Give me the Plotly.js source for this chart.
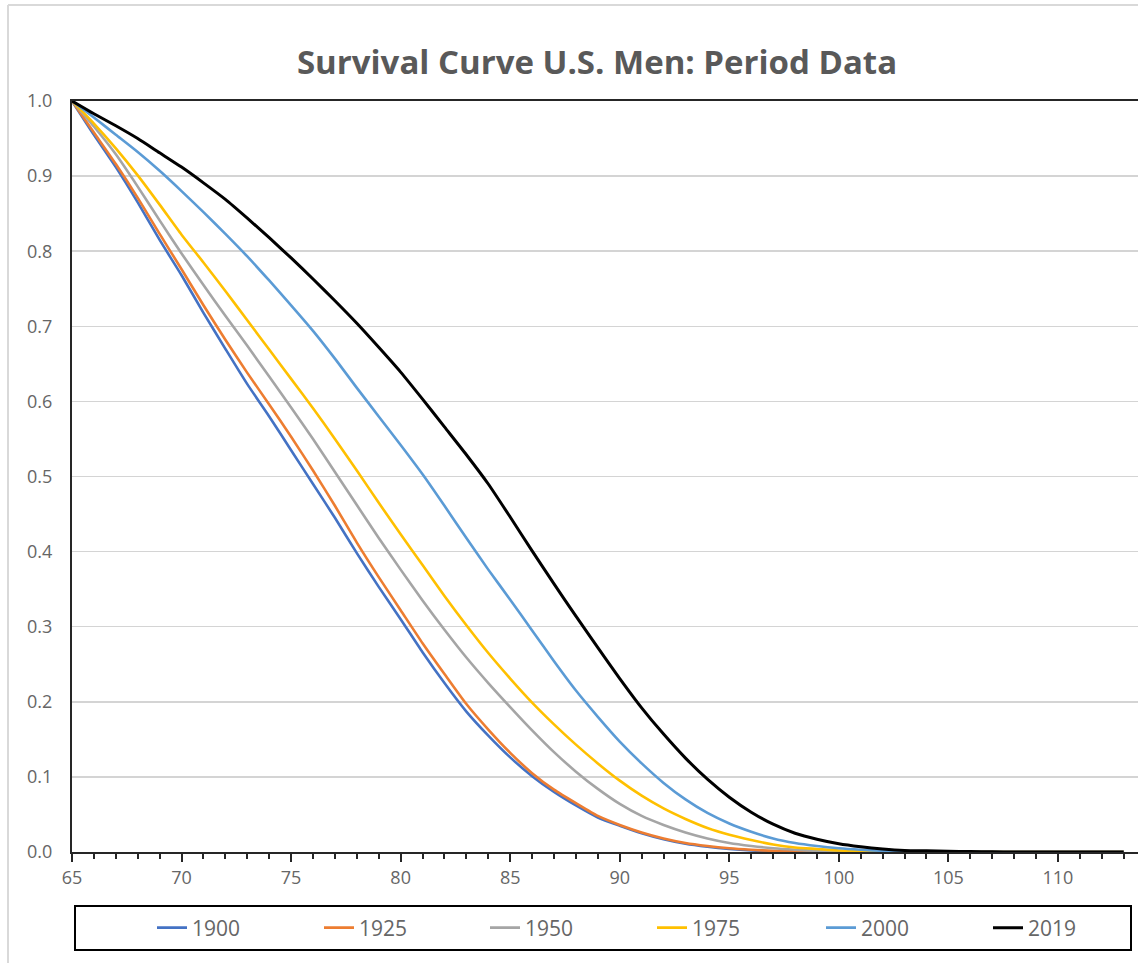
<!DOCTYPE html>
<html>
<head>
<meta charset="utf-8">
<script src="https://cdn.plot.ly/plotly-3.0.1.min.js"></script>
<style>html,body{margin:0;padding:0;background:#fff;}#chart{width:1138px;height:963px;}</style>
</head>
<body>
<div id="chart"></div>
<script>
const ages = [65,66,67,68,69,70,71,72,73,74,75,76,77,78,79,80,81,82,83,84,85,86,87,88,89,90,91,92,93,94,95,96,97,98,99,100,101,102,103,104,105,106,107,108,109,110,111,112,113];

const s1900 = [1.000,0.955,0.912,0.865,0.815,0.768,0.718,0.670,0.623,0.580,0.535,0.490,0.445,0.398,0.353,0.310,0.266,0.225,0.187,0.155,0.126,0.101,0.080,0.062,0.046,0.035,0.025,0.017,0.011,0.007,0.004,0.002,0.001,0.0005,0.0002,0,0,0,0,0,0,0,0,0,0,0,0,0,0];
const s1925 = [1.000,0.958,0.916,0.871,0.823,0.776,0.728,0.682,0.638,0.596,0.553,0.508,0.461,0.412,0.366,0.322,0.278,0.237,0.197,0.163,0.132,0.105,0.083,0.065,0.048,0.036,0.026,0.018,0.012,0.008,0.005,0.003,0.0015,0.0008,0.0003,0,0,0,0,0,0,0,0,0,0,0,0,0,0];
const s1950 = [1.000,0.966,0.929,0.886,0.841,0.797,0.755,0.714,0.674,0.633,0.592,0.550,0.506,0.462,0.418,0.376,0.335,0.296,0.259,0.225,0.193,0.162,0.133,0.107,0.084,0.064,0.048,0.036,0.026,0.018,0.012,0.008,0.005,0.003,0.0015,0.0008,0.0003,0,0,0,0,0,0,0,0,0,0,0,0];
const s1975 = [1.000,0.970,0.937,0.901,0.862,0.822,0.785,0.747,0.708,0.669,0.630,0.591,0.550,0.508,0.465,0.423,0.382,0.341,0.302,0.265,0.231,0.199,0.170,0.143,0.118,0.095,0.075,0.058,0.044,0.032,0.023,0.016,0.010,0.006,0.004,0.002,0.001,0.0005,0,0,0,0,0,0,0,0,0,0,0];
const s2000 = [1.000,0.978,0.955,0.932,0.907,0.880,0.852,0.823,0.793,0.761,0.728,0.694,0.657,0.618,0.580,0.542,0.503,0.461,0.418,0.376,0.336,0.295,0.254,0.215,0.180,0.147,0.118,0.092,0.070,0.052,0.038,0.027,0.018,0.012,0.008,0.005,0.003,0.0015,0.0008,0.0003,0,0,0,0,0,0,0,0,0];
const s2019 = [1.000,0.983,0.967,0.950,0.931,0.912,0.891,0.869,0.844,0.818,0.791,0.763,0.734,0.704,0.672,0.639,0.603,0.566,0.529,0.490,0.446,0.401,0.357,0.314,0.272,0.231,0.192,0.157,0.125,0.097,0.073,0.053,0.037,0.025,0.017,0.011,0.007,0.004,0.002,0.0015,0.001,0.0005,0.0002,0,0,0,0,0,0];

const seriesNames = ['1900','1925','1950','1975','2000','2019'];
const seriesData = [s1900,s1925,s1950,s1975,s2000,s2019];
const seriesColors = ['#4472C4','#ED7D31','#A5A5A5','#FFC000','#5B9BD5','#000000'];
const yTicks = [0,0.1,0.2,0.3,0.4,0.5,0.6,0.7,0.8,0.9,1.0];
const xTicks = [65,70,75,80,85,90,95,100,105,110];

const W = 1138, H = 963;
const L = 72, R = 0, T = 101, B = 111;
const pw = W - L - R, ph = H - T - B;
const px = p => (p - L) / pw;
const py = p => (H - B - p) / ph;

const legendIds = ['legend','legend2','legend3','legend4','legend5','legend6'];
const legendX = [152, 319, 485, 652, 821, 988];

const traces = seriesNames.map((n, i) => ({
  x: ages, y: seriesData[i], name: n, type: 'scatter', mode: 'lines',
  line: {color: seriesColors[i], width: i === 5 ? 3 : 2.6, shape: 'spline', smoothing: 0.6},
  legend: legendIds[i],
  hoverinfo: 'skip'
}));

const layout = {
  width: W, height: H,
  margin: {l: L, r: R, t: T, b: B, pad: 0, autoexpand: false},
  paper_bgcolor: '#fff', plot_bgcolor: '#fff',
  font: {family: 'Open Sans, sans-serif', color: '#666666', size: 18},
  title: {text: '<b>Survival Curve U.S. Men: Period Data</b>', xref: 'container', yref: 'container',
          x: 597/W, xanchor: 'center', y: 1 - 62/H, yanchor: 'middle',
          font: {family: 'Open Sans, sans-serif', size: 33, color: '#595959'}},
  xaxis: {
    range: [65, 65 + pw / 21.91], tickvals: xTicks, ticktext: xTicks.map(String),
    showgrid: false, zeroline: false,
    showline: true, linecolor: '#262626', linewidth: 2, mirror: true,
    ticks: 'outside', ticklen: 8, tickwidth: 2, tickcolor: '#262626',
    minor: {dtick: 1, tick0: 65, ticks: 'outside', ticklen: 5, tickwidth: 2, tickcolor: '#262626', showgrid: false},
    tickfont: {size: 18, color: '#666666'}
  },
  yaxis: {
    range: [0, 1], tickvals: yTicks, ticktext: yTicks.map(v => v.toFixed(1)),
    showgrid: true, gridcolor: '#d4d4d4', gridwidth: 1.5, zeroline: false,
    showline: true, linecolor: '#262626', linewidth: 2,
    ticks: 'outside', ticklen: 14, tickcolor: 'rgba(0,0,0,0)',
    tickfont: {size: 18, color: '#666666'}
  },
  showlegend: true,
  shapes: [
    {type: 'rect', xref: 'paper', yref: 'paper', x0: px(75), x1: px(1131), y0: py(906), y1: py(950),
     line: {color: '#000', width: 2}, fillcolor: 'rgba(0,0,0,0)'},
    {type: 'line', xref: 'paper', yref: 'paper', x0: px(8), x1: px(1140), y0: py(5), y1: py(5),
     line: {color: '#d9d9d9', width: 2}},
    {type: 'line', xref: 'paper', yref: 'paper', x0: px(8), x1: px(8), y0: py(5), y1: py(965),
     line: {color: '#d9d9d9', width: 2}}
  ]
};

legendIds.forEach((id, i) => {
  layout[id] = {
    xref: 'container', yref: 'container',
    x: legendX[i] / W, xanchor: 'left', y: 1 - 928 / H, yanchor: 'middle',
    orientation: 'h', bgcolor: 'rgba(0,0,0,0)', borderwidth: 0,
    font: {size: 21, color: '#666666'}
  };
});

Plotly.newPlot('chart', traces, layout, {displayModeBar: false, staticPlot: true});
</script>
</body>
</html>
